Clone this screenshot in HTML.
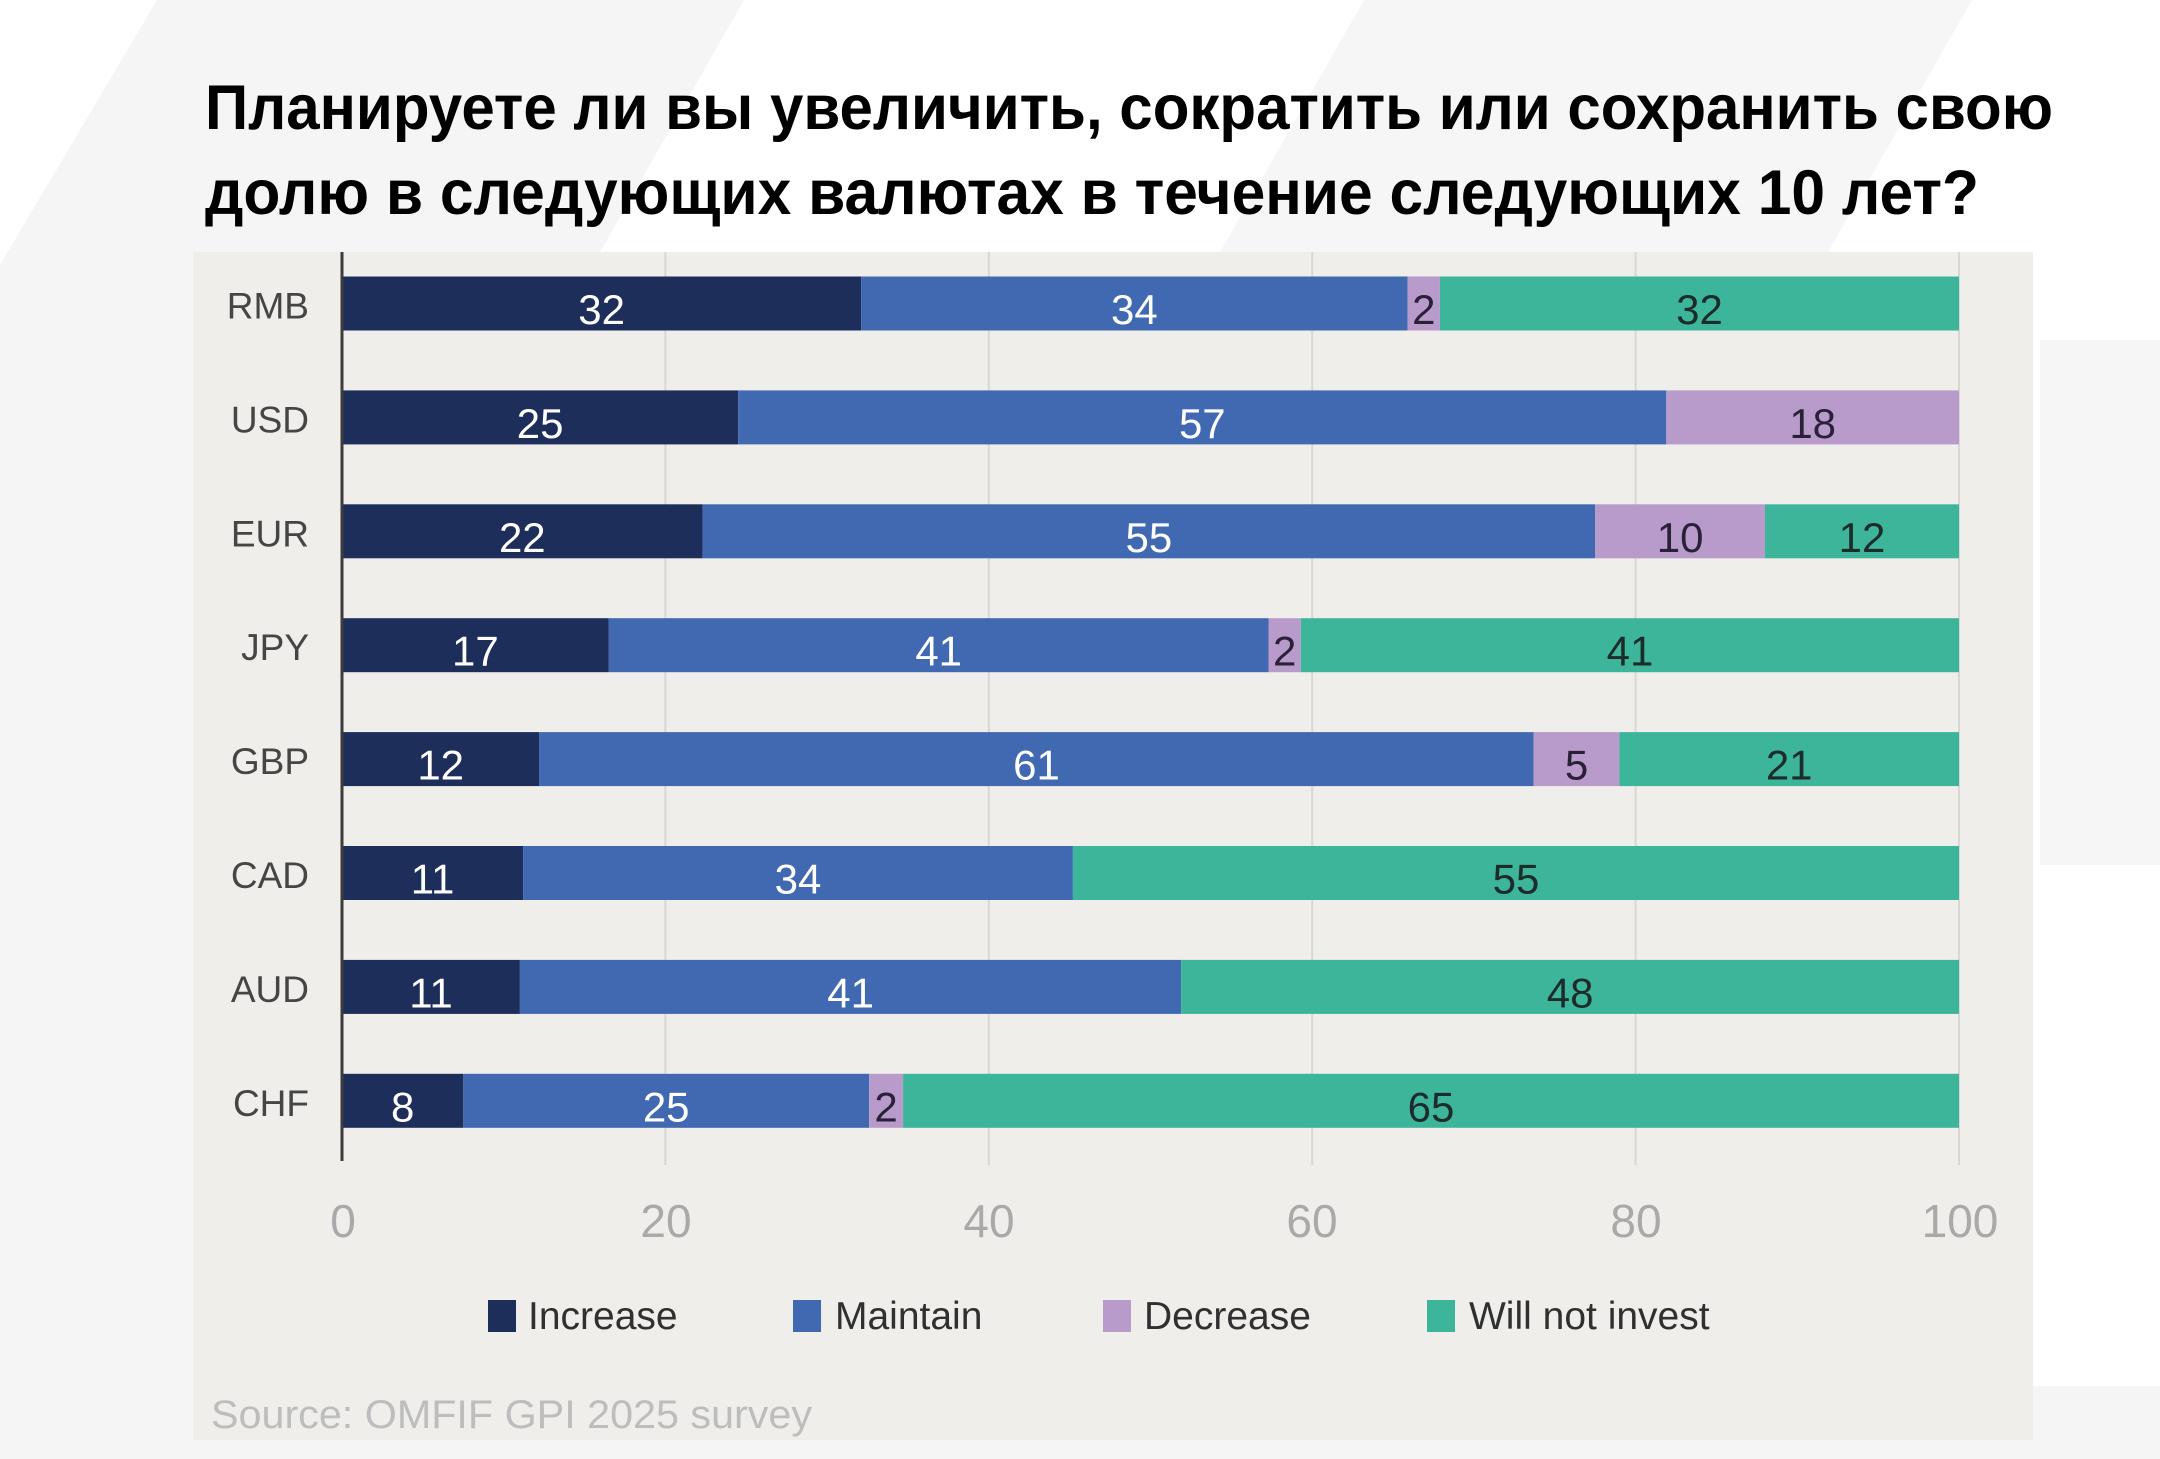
<!DOCTYPE html>
<html>
<head>
<meta charset="utf-8">
<style>
  html,body{margin:0;padding:0;background:#ffffff;}
  svg{display:block;}
  text{font-family:"Liberation Sans", "Noto Sans CJK SC", sans-serif;}
</style>
</head>
<body>
<svg width="2160" height="1459" viewBox="0 0 2160 1459" xmlns="http://www.w3.org/2000/svg">
  <!-- background -->
  <rect x="0" y="0" width="2160" height="1459" fill="#ffffff"/>
  <polygon points="157,0 744,0 600,252 0,265" fill="#f5f5f5"/>
  <polygon points="0,265 193,252 193,1459 0,1459" fill="#f5f5f5"/>
  <polygon points="1364,0 1972,0 1828,252 1220,252" fill="#f6f6f6"/>
  <rect x="2040" y="340" width="120" height="525" fill="#f6f6f6"/>
  <rect x="2033" y="1386" width="127" height="73" fill="#f5f5f5"/>
  <rect x="0" y="1440" width="2160" height="19" fill="#f5f5f5"/>

  <!-- title -->
  <text x="205" y="129" font-size="63" font-weight="bold" fill="#000" textLength="1848" lengthAdjust="spacingAndGlyphs">Планируете ли вы увеличить, сократить или сохранить свою</text>
  <text x="205" y="214" font-size="63" font-weight="bold" fill="#000" textLength="1774" lengthAdjust="spacingAndGlyphs">долю в следующих валютах в течение следующих 10 лет?</text>

  <!-- chart panel -->
  <rect x="193" y="252" width="1840" height="1188" fill="#efeeeb"/>

  <!-- gridlines -->
  <g stroke="#d8d7d4" stroke-width="2">
    <line x1="665.4" y1="252" x2="665.4" y2="1165"/>
    <line x1="988.8" y1="252" x2="988.8" y2="1165"/>
    <line x1="1312.2" y1="252" x2="1312.2" y2="1165"/>
    <line x1="1635.6" y1="252" x2="1635.6" y2="1165"/>
    <line x1="1959" y1="252" x2="1959" y2="1165"/>
  </g>

  <!-- bars -->
  <!-- RMB -->
  <g>
    <rect x="342" y="276.5" width="519.1" height="54" fill="#1e2e5b"/>
    <rect x="861.1" y="276.5" width="546.5" height="54" fill="#4169b1"/>
    <rect x="1407.6" y="276.5" width="32.3" height="54" fill="#b89bcb"/>
    <rect x="1439.9" y="276.5" width="519.1" height="54" fill="#3cb59a"/>
  </g>
  <!-- USD -->
  <g>
    <rect x="342" y="390.4" width="396.2" height="54" fill="#1e2e5b"/>
    <rect x="738.2" y="390.4" width="928.1" height="54" fill="#4169b1"/>
    <rect x="1666.3" y="390.4" width="292.7" height="54" fill="#b89bcb"/>
  </g>
  <!-- EUR -->
  <g>
    <rect x="342" y="504.3" width="360.6" height="54" fill="#1e2e5b"/>
    <rect x="702.6" y="504.3" width="892.6" height="54" fill="#4169b1"/>
    <rect x="1595.2" y="504.3" width="169.8" height="54" fill="#b89bcb"/>
    <rect x="1765" y="504.3" width="194" height="54" fill="#3cb59a"/>
  </g>
  <!-- JPY -->
  <g>
    <rect x="342" y="618.2" width="266.8" height="54" fill="#1e2e5b"/>
    <rect x="608.8" y="618.2" width="659.7" height="54" fill="#4169b1"/>
    <rect x="1268.5" y="618.2" width="32.4" height="54" fill="#b89bcb"/>
    <rect x="1300.9" y="618.2" width="658.1" height="54" fill="#3cb59a"/>
  </g>
  <!-- GBP -->
  <g>
    <rect x="342" y="732.1" width="197.3" height="54" fill="#1e2e5b"/>
    <rect x="539.3" y="732.1" width="994.4" height="54" fill="#4169b1"/>
    <rect x="1533.7" y="732.1" width="85.7" height="54" fill="#b89bcb"/>
    <rect x="1619.4" y="732.1" width="339.6" height="54" fill="#3cb59a"/>
  </g>
  <!-- CAD -->
  <g>
    <rect x="342" y="846" width="181.1" height="54" fill="#1e2e5b"/>
    <rect x="523.1" y="846" width="549.8" height="54" fill="#4169b1"/>
    <rect x="1072.9" y="846" width="886.1" height="54" fill="#3cb59a"/>
  </g>
  <!-- AUD -->
  <g>
    <rect x="342" y="959.9" width="177.9" height="54" fill="#1e2e5b"/>
    <rect x="519.9" y="959.9" width="661.3" height="54" fill="#4169b1"/>
    <rect x="1181.2" y="959.9" width="777.8" height="54" fill="#3cb59a"/>
  </g>
  <!-- CHF -->
  <g>
    <rect x="342" y="1073.8" width="121.3" height="54" fill="#1e2e5b"/>
    <rect x="463.3" y="1073.8" width="405.8" height="54" fill="#4169b1"/>
    <rect x="869.1" y="1073.8" width="34" height="54" fill="#b89bcb"/>
    <rect x="903.1" y="1073.8" width="1055.9" height="54" fill="#3cb59a"/>
  </g>

  <!-- axis line -->
  <line x1="342" y1="252" x2="342" y2="1161" stroke="#3c3c3c" stroke-width="3"/>

  <!-- category labels -->
  <g font-size="37" fill="#454545" text-anchor="end">
    <text x="309" y="318.5">RMB</text>
    <text x="309" y="432.4">USD</text>
    <text x="309" y="546.3">EUR</text>
    <text x="309" y="660.2">JPY</text>
    <text x="309" y="774.1">GBP</text>
    <text x="309" y="888">CAD</text>
    <text x="309" y="1001.9">AUD</text>
    <text x="309" y="1115.8">CHF</text>
  </g>

  <!-- value labels -->
  <g font-size="42" text-anchor="middle">
    <!-- RMB -->
    <text x="601.6" y="324" fill="#ffffff">32</text>
    <text x="1134.4" y="324" fill="#ffffff">34</text>
    <text x="1423.8" y="324" fill="#2a2138">2</text>
    <text x="1699.5" y="324" fill="#1d2b2b">32</text>
    <!-- USD -->
    <text x="540.1" y="437.9" fill="#ffffff">25</text>
    <text x="1202.3" y="437.9" fill="#ffffff">57</text>
    <text x="1812.7" y="437.9" fill="#2a2138">18</text>
    <!-- EUR -->
    <text x="522.3" y="551.8" fill="#ffffff">22</text>
    <text x="1148.9" y="551.8" fill="#ffffff">55</text>
    <text x="1680.1" y="551.8" fill="#2a2138">10</text>
    <text x="1862" y="551.8" fill="#1d2b2b">12</text>
    <!-- JPY -->
    <text x="475.4" y="665.7" fill="#ffffff">17</text>
    <text x="938.7" y="665.7" fill="#ffffff">41</text>
    <text x="1284.7" y="665.7" fill="#2a2138">2</text>
    <text x="1630" y="665.7" fill="#1d2b2b">41</text>
    <!-- GBP -->
    <text x="440.7" y="779.6" fill="#ffffff">12</text>
    <text x="1036.5" y="779.6" fill="#ffffff">61</text>
    <text x="1576.6" y="779.6" fill="#2a2138">5</text>
    <text x="1789.2" y="779.6" fill="#1d2b2b">21</text>
    <!-- CAD -->
    <text x="432.6" y="893.5" fill="#ffffff">11</text>
    <text x="798" y="893.5" fill="#ffffff">34</text>
    <text x="1516" y="893.5" fill="#1d2b2b">55</text>
    <!-- AUD -->
    <text x="431" y="1007.4" fill="#ffffff">11</text>
    <text x="850.6" y="1007.4" fill="#ffffff">41</text>
    <text x="1570.1" y="1007.4" fill="#1d2b2b">48</text>
    <!-- CHF -->
    <text x="402.7" y="1121.3" fill="#ffffff">8</text>
    <text x="666.2" y="1121.3" fill="#ffffff">25</text>
    <text x="886.1" y="1121.3" fill="#2a2138">2</text>
    <text x="1431" y="1121.3" fill="#1d2b2b">65</text>
  </g>

  <!-- x tick labels -->
  <g font-size="46" fill="#a9a9a9" text-anchor="middle">
    <text x="343" y="1237">0</text>
    <text x="666" y="1237">20</text>
    <text x="989" y="1237">40</text>
    <text x="1312" y="1237">60</text>
    <text x="1636" y="1237">80</text>
    <text x="1960" y="1237">100</text>
  </g>

  <!-- legend -->
  <rect x="488" y="1300" width="28" height="32" fill="#1e2e5b"/>
  <rect x="793" y="1300" width="28" height="32" fill="#4169b1"/>
  <rect x="1103" y="1300" width="28" height="32" fill="#b89bcb"/>
  <rect x="1427" y="1300" width="28" height="32" fill="#3cb59a"/>
  <g font-size="39" fill="#303030">
    <text x="528" y="1329">Increase</text>
    <text x="835" y="1329">Maintain</text>
    <text x="1144" y="1329">Decrease</text>
    <text x="1469" y="1329">Will not invest</text>
  </g>

  <!-- source -->
  <text x="211" y="1428" font-size="40" fill="#bdbdbd" textLength="601" lengthAdjust="spacingAndGlyphs">Source: OMFIF GPI 2025 survey</text>
</svg>
</body>
</html>
